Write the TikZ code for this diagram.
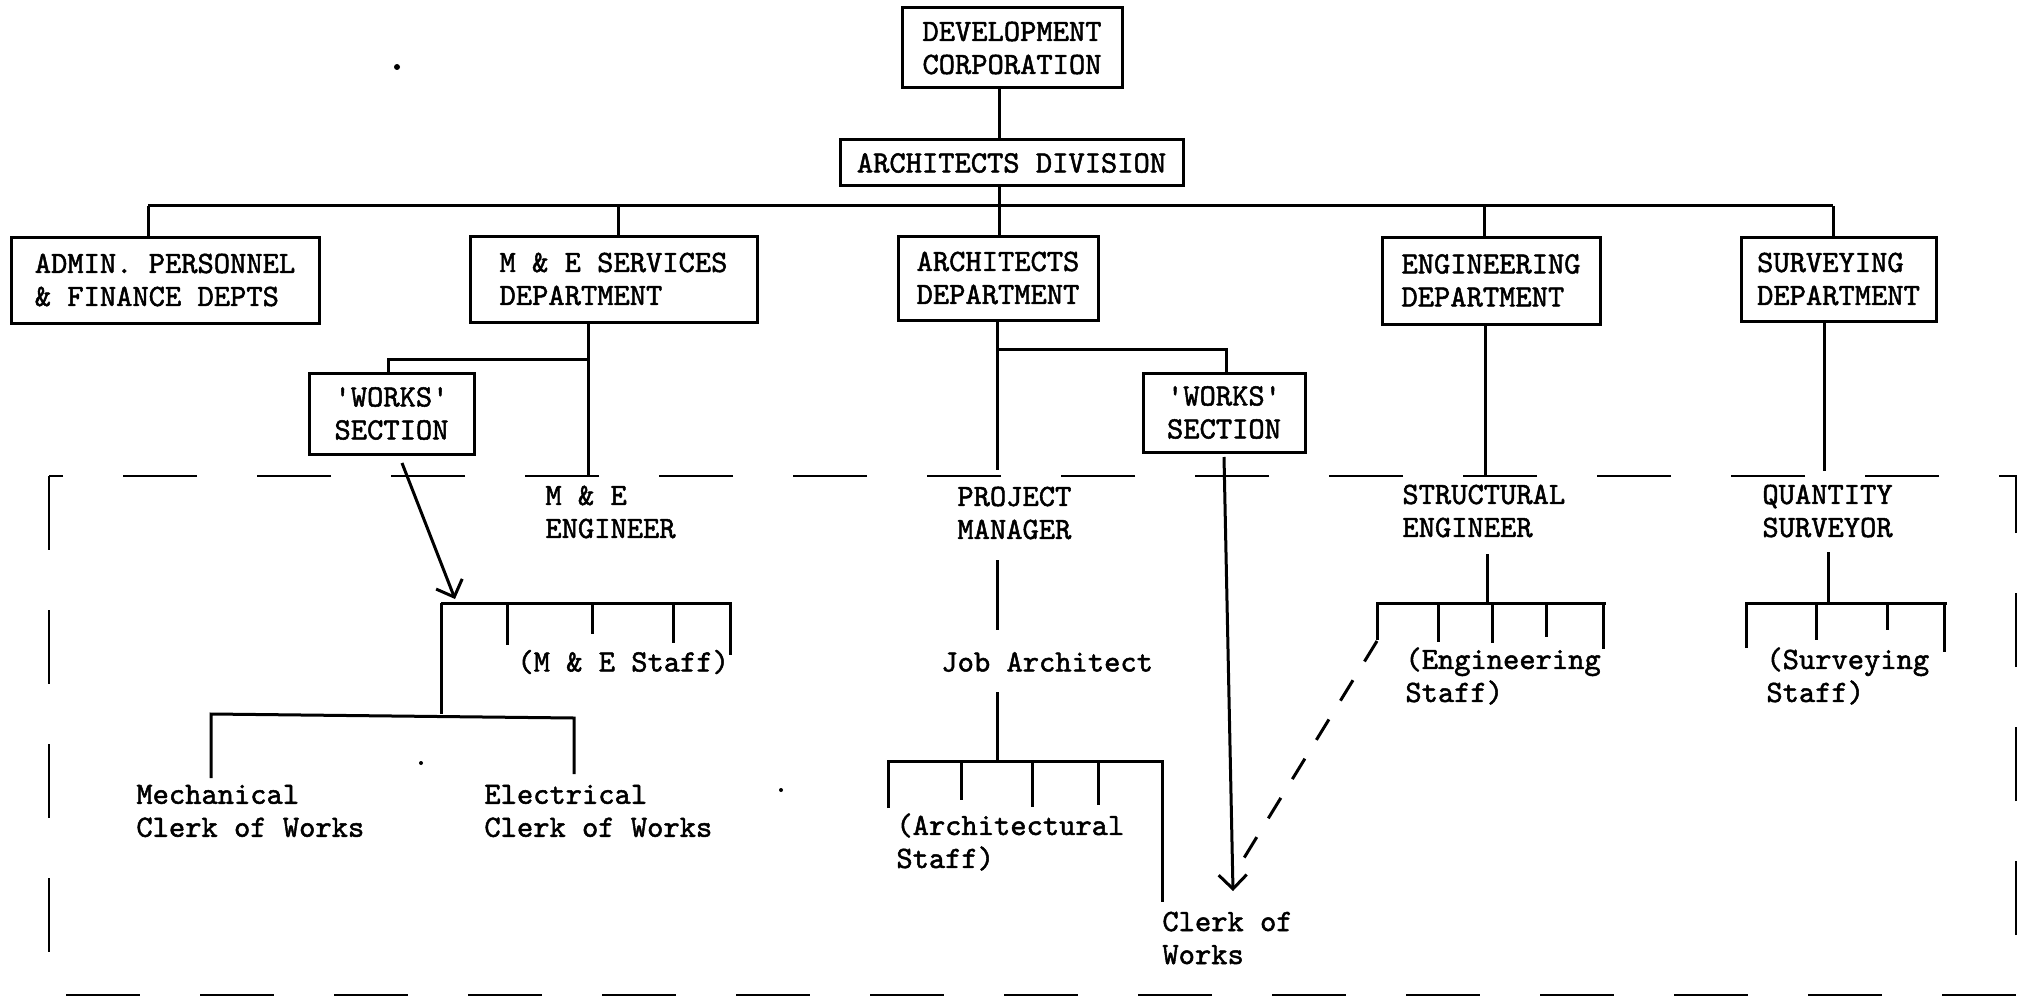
\documentclass[tikz,border=0pt]{standalone}
\usepackage{fontspec}
\usetikzlibrary{arrows.meta}
\newfontfamily\twfont{lmmono10-regular}[Extension=.otf, RawFeature={embolden=1.6}]
\newcommand\tlfont{\fontsize{15.5}{16.5}\selectfont\twfont}
\tikzset{
  box/.style={draw, line width=1.5pt, inner sep=0pt, align=left, font=\tlfont},
  txt/.style={inner sep=0pt, anchor=west, align=left, font=\tlfont},
  ln/.style={line width=1.5pt},
  arr/.style={line width=1.5pt, -{Straight Barb[length=7pt,width=14pt]}},
  frame/.style={line width=1.1pt, dash pattern=on 37pt off 30pt},
  dashln/.style={line width=1.5pt, dash pattern=on 12pt off 11pt}
}
\begin{document}
\begin{tikzpicture}[x=0.5pt,y=-0.5pt]
\useasboundingbox (0,0) rectangle (2021,1000);
% boxes
\node[box, minimum width=110pt, minimum height=40pt] (dc) at (1012,48) {DEVELOPMENT\\CORPORATION};
\node[box, minimum width=171.5pt, minimum height=23pt] (ad) at (1011.5,163) {ARCHITECTS DIVISION};
\node[box, minimum width=154pt, minimum height=43pt] (admin) at (165,280) {ADMIN. PERSONNEL\\\& FINANCE DEPTS};
\node[box, minimum width=143.5pt, minimum height=43pt] (mes) at (613.5,279) {M \& E SERVICES\\DEPARTMENT};
\node[box, minimum width=100pt, minimum height=42pt] (archd) at (998,278) {ARCHITECTS\\DEPARTMENT};
\node[box, minimum width=109pt, minimum height=43.5pt] (engd) at (1491,280.5) {ENGINEERING\\DEPARTMENT};
\node[box, minimum width=97.5pt, minimum height=42pt] (surd) at (1838.5,279) {SURVEYING\\DEPARTMENT};
\node[box, minimum width=82.5pt, minimum height=40.5pt] (worksL) at (391.5,413.5) {'WORKS'\\SECTION};
\node[box, minimum width=81pt, minimum height=39.5pt] (worksR) at (1224,412.5) {'WORKS'\\SECTION};
% texts
\node[txt] (meeng) at (545,512) {M \& E\\ENGINEER};
\node[txt] (pm) at (957,513) {PROJECT\\MANAGER};
\node[txt] (se) at (1402,511) {STRUCTURAL\\ENGINEER};
\node[txt] (qs) at (1762,511) {QUANTITY\\SURVEYOR};
\node[txt] (mestaff) at (517,662) {(M \& E Staff)};
\node[txt] (mech) at (136,811) {Mechanical\\Clerk of Works};
\node[txt] (elec) at (484,811) {Electrical\\Clerk of Works};
\node[txt] (job) at (941,662) {Job Architect};
\node[txt] (archst) at (896,842) {(Architectural\\Staff)};
\node[txt] (cow) at (1162,938) {Clerk of\\Works};
\node[txt] (engst) at (1405,676) {(Engineering\\Staff)};
\node[txt] (surst) at (1766,676) {(Surveying\\Staff)};
% frame
\draw[frame] (49,476) rectangle (2016,995);
% top connectors
\coordinate (xA) at (999,0);
\draw[ln] (dc.south -| xA) -- (ad.north -| xA);
\draw[ln] (ad.south -| xA) -- (archd.north -| xA);
\coordinate (b1) at (148,206);
\coordinate (b2) at (618,206);
\coordinate (b4) at (1484,206);
\coordinate (b5) at (1833,206);
\draw[ln] (b1) -- (b5);
\draw[ln] (b1) -- (b1 |- admin.north);
\draw[ln] (b2) -- (b2 |- mes.north);
\draw[ln] (b4) -- (b4 |- engd.north);
\draw[ln] (b5) -- (b5 |- surd.north);
% M&E branch
\coordinate (m1) at (588,476);
\coordinate (wl) at (388,359);
\draw[ln] (m1 |- mes.south) -- (m1);
\draw[ln] (wl -| m1) -- (wl) -- (wl |- worksL.north);
% Architects branch
\coordinate (a1) at (997,470);
\coordinate (wr) at (1226,349);
\draw[ln] (a1 |- archd.south) -- (a1);
\draw[ln] (wr -| a1) -- (wr) -- (wr |- worksR.north);
% Engineering / Surveying
\coordinate (e1) at (1485,476);
\coordinate (s1) at (1824,471);
\draw[ln] (e1 |- engd.south) -- (e1);
\draw[ln] (s1 |- surd.south) -- (s1);
% M&E staff
\coordinate (aL1) at (402,463);
\coordinate (aL2) at (455,599);
\draw[arr] (aL1) -- (aL2);
\draw[ln] (441,603) -- (732,603);
\draw[ln] (441,603) -- (441,714);
\draw[ln] (507,603) -- (507,645);
\draw[ln] (592,603) -- (592,634);
\draw[ln] (673,603) -- (673,643);
\draw[ln] (730,603) -- (730,655);
\draw[ln] (211,778) -- (211,714) -- (574,718) -- (574,774);
% Architects lower
\draw[ln] (997,560) -- (997,630);
\draw[ln] (997,692) -- (997,761);
\draw[ln] (888,808) -- (888,761) -- (1162,761) -- (1162,902);
\draw[ln] (961,761) -- (961,800);
\draw[ln] (1032,761) -- (1032,807);
\draw[ln] (1098,761) -- (1098,805);
% Works right arrow
\coordinate (aR1) at (1224,457);
\coordinate (aR2) at (1233,891);
\draw[arr] (aR1) -- (aR2);
% Engineering staff
\draw[ln] (1487,554) -- (1487,603);
\draw[ln] (1377,640) -- (1377,603) -- (1606,603);
\draw[ln] (1438,603) -- (1438,642);
\draw[ln] (1492,603) -- (1492,643);
\draw[ln] (1546,603) -- (1546,637);
\draw[ln] (1603,603) -- (1603,649);
\coordinate (dA) at (1377,641);
\coordinate (dB) at (1236,871);
\draw[dashln] (dA) -- (dB);
% Surveying staff
\draw[ln] (1828,552) -- (1828,603);
\draw[ln] (1746,648) -- (1746,603) -- (1947,603);
\draw[ln] (1816,603) -- (1816,640);
\draw[ln] (1887,603) -- (1887,630);
\draw[ln] (1944,603) -- (1944,652);
% specks
\fill (397,67) circle (1.5pt);
\fill (421,763) circle (1pt);
\fill (781,790) circle (1pt);
\end{tikzpicture}
\end{document}
